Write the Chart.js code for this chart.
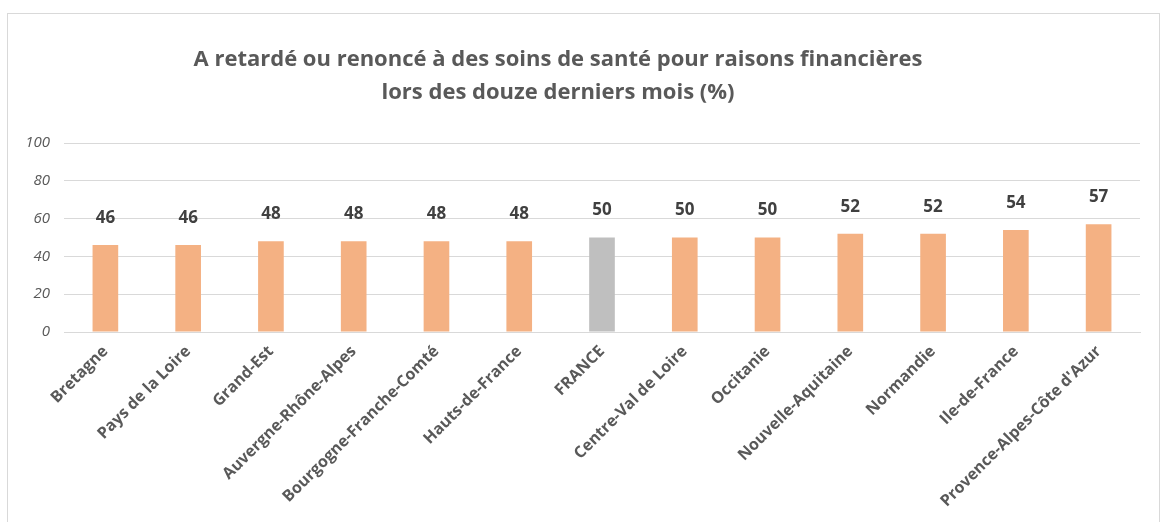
<!DOCTYPE html>
<html>
<head>
<meta charset="utf-8">
<script src="https://cdn.jsdelivr.net/npm/chart.js@4.4.1/dist/chart.umd.min.js"></script>
<style>
  html, body { margin: 0; padding: 0; background: #fff; }
  #wrap { position: relative; width: 1168px; height: 522px; }
  #frame { position: absolute; left: 7px; top: 13px; width: 1153px; height: 520px; border: 1px solid #d9d9d9; box-sizing: border-box; }
  canvas { position: absolute; left: 0; top: 0; }
</style>
</head>
<body>
<div id="wrap">
  <div id="frame"></div>
  <canvas id="chart" width="1168" height="522"></canvas>
</div>
<script>
const regions = ['Bretagne', 'Pays de la Loire', 'Grand-Est', 'Auvergne-Rhône-Alpes', 'Bourgogne-Franche-Comté',
    'Hauts-de-France', 'FRANCE', 'Centre-Val de Loire', 'Occitanie', 'Nouvelle-Aquitaine', 'Normandie',
    'Ile-de-France', 'Provence-Alpes-Côte d\'Azur'];
const percents = [46, 46, 48, 48, 48, 48, 50, 50, 50, 52, 52, 54, 57];
const yTicks = [0, 20, 40, 60, 80, 100];
const titleLines = ['A retardé ou renoncé à des soins de santé pour raisons financières', 'lors des douze derniers mois (%)'];

const FONT = '"Open Sans", Lato, sans-serif';

// excel centres the title a bit left of the canvas middle, so draw it by hand
const titlePlugin = {
    id: 'excelTitle',
    afterDraw(chart) {
        const ctx = chart.ctx;
        ctx.save();
        ctx.font = 'bold 22px ' + FONT;
        ctx.fillStyle = '#595959';
        ctx.textAlign = 'center';
        ctx.textBaseline = 'middle';
        titleLines.forEach((line, i) => {
            ctx.fillText(line, 558, 60 + i * 33);
        });
        ctx.restore();
    }
};

const valueLabels = {
    id: 'valueLabels',
    afterDatasetsDraw(chart) {
        const ctx = chart.ctx;
        const meta = chart.getDatasetMeta(0);
        ctx.save();
        ctx.font = 'bold 17px ' + FONT;
        ctx.fillStyle = '#404040';
        ctx.textAlign = 'center';
        ctx.textBaseline = 'middle';
        meta.data.forEach((bar, i) => {
            ctx.fillText(String(percents[i]), bar.x, bar.y - 27);
        });
        ctx.restore();
    }
};

const ctx = document.getElementById('chart').getContext('2d');
const chart = new Chart(ctx, {
    type: 'bar',
    data: {
        labels: regions,
        datasets: [{
            data: percents,
            backgroundColor: regions.map(r => r === 'FRANCE' ? '#bfbfbf' : '#f4b183'),
            barPercentage: 0.62,
            categoryPercentage: 0.5
        }]
    },
    options: {
        responsive: false,
        animation: false,
        layout: { padding: { left: 20, right: 28, top: 143, bottom: 0 } },
        plugins: {
            legend: { display: false },
            tooltip: { enabled: false },
            title: { display: false }
        },
        scales: {
            x: {
                grid: { display: false },
                border: { color: '#d9d9d9' },
                ticks: {
                    color: '#595959',
                    font: { family: FONT, size: 16, weight: 'bold' },
                    minRotation: 45,
                    maxRotation: 45,
                    autoSkip: false,
                    padding: 2
                },
                afterFit(s) { s.height = 190; }
            },
            y: {
                min: 0,
                max: 100,
                afterBuildTicks(s) { s.ticks = yTicks.map(v => ({ value: v })); },
                grid: { color: '#d9d9d9', lineWidth: 1, drawTicks: false },
                border: { display: false },
                ticks: {
                    color: '#595959',
                    font: { family: FONT, size: 15, style: 'italic' },
                    padding: 14
                },
                afterFit(s) { s.width = 44; }
            }
        }
    },
    plugins: [valueLabels, titlePlugin]
});
</script>
</body>
</html>
